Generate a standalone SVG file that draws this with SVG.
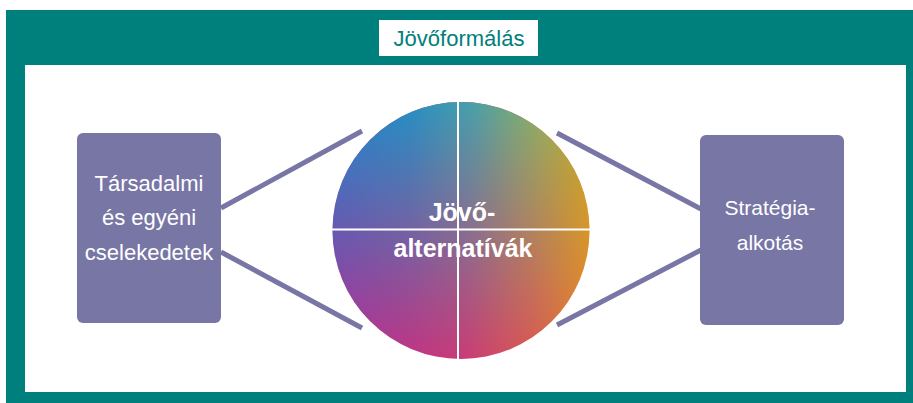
<svg xmlns="http://www.w3.org/2000/svg" width="913" height="403" viewBox="0 0 913 403">
  <style>
    .box { fill: #7876a5; }
    .conn { stroke: #7876a5; stroke-width: 5; fill: none; stroke-linecap: butt; }
    .label { font-family: "Liberation Sans", Arial, sans-serif; fill: #ffffff; text-anchor: middle; }
    .title { font-family: "Liberation Sans", Arial, sans-serif; fill: #00807c; text-anchor: middle; font-size: 22px; }
    .center { font-family: "Liberation Sans", Arial, sans-serif; fill: #ffffff; text-anchor: middle; font-weight: bold; font-size: 25px; }
    .div { stroke: #ffffff; stroke-width: 2; }
  </style>
  <defs>
    <linearGradient id="topG" x1="0" y1="0" x2="1" y2="0">
      <stop offset="0" stop-color="#1a88cc"/>
      <stop offset="0.3" stop-color="#2490c4"/>
      <stop offset="0.55" stop-color="#4aa0a8"/>
      <stop offset="0.8" stop-color="#8cb064"/>
      <stop offset="1" stop-color="#c4ac28"/>
    </linearGradient>
    <linearGradient id="botG" x1="0" y1="0" x2="1" y2="0">
      <stop offset="0" stop-color="#b42c96"/>
      <stop offset="0.5" stop-color="#c83c78"/>
      <stop offset="0.8" stop-color="#dc5a50"/>
      <stop offset="1" stop-color="#e8802c"/>
    </linearGradient>
    <linearGradient id="maskG" x1="0" y1="0" x2="0" y2="1">
      <stop offset="0" stop-color="#ffffff"/>
      <stop offset="1" stop-color="#000000"/>
    </linearGradient>
    <mask id="vmask" maskUnits="userSpaceOnUse" x="330" y="100" width="262" height="262">
      <rect x="332" y="102" width="258" height="257" fill="url(#maskG)"/>
    </mask>
  </defs>

  <!-- frame -->
  <rect x="6" y="10" width="907" height="393" fill="#00807c"/>
  <rect x="25" y="65" width="881" height="327" fill="#ffffff"/>

  <g id="title">
    <rect x="379" y="20" width="159" height="36" fill="#ffffff"/>
    <text class="title" x="459" y="46">Jövőformálás</text>
  </g>

  <g id="connectors">
    <line class="conn" x1="221" y1="208" x2="362" y2="131"/>
    <line class="conn" x1="221" y1="252" x2="362" y2="328"/>
    <line class="conn" x1="557" y1="133" x2="701" y2="209"/>
    <line class="conn" x1="557" y1="325" x2="701" y2="250"/>
  </g>

  <g id="left-node">
    <rect class="box" x="77" y="133" width="144" height="190" rx="6"/>
    <text class="label" font-size="22" x="149" y="191">Társadalmi</text>
    <text class="label" font-size="22" x="149" y="225">és egyéni</text>
    <text class="label" font-size="22" x="149" y="260">cselekedetek</text>
  </g>

  <g id="right-node">
    <rect class="box" x="700" y="135" width="144" height="190" rx="6"/>
    <text class="label" font-size="21" x="770" y="215">Stratégia-</text>
    <text class="label" font-size="21" x="770" y="250">alkotás</text>
  </g>

  <g id="center-node">
    <circle cx="461" cy="230.5" r="128.5" fill="url(#botG)"/>
    <circle cx="461" cy="230.5" r="128.5" fill="url(#topG)" mask="url(#vmask)"/>
    <line class="div" x1="458" y1="102" x2="458" y2="359"/>
    <line class="div" x1="332" y1="229.5" x2="590" y2="229.5"/>
    <text class="center" x="462" y="221">Jövő-</text>
    <text class="center" x="463" y="257">alternatívák</text>
  </g>
</svg>
